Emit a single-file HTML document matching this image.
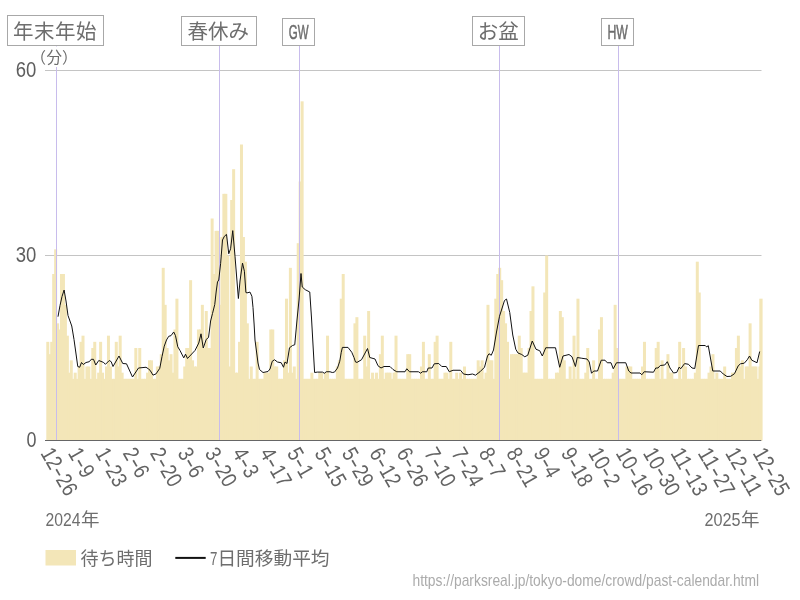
<!DOCTYPE html>
<html lang="ja"><head><meta charset="utf-8"><title>待ち時間</title>
<style>html,body{margin:0;padding:0;background:#fff}svg{display:block}text{font-family:"Liberation Sans","Noto Sans CJK JP",sans-serif;fill:#6e6e6e}svg{will-change:transform}.jp{font-family:"Liberation Sans","Noto Sans CJK JP",sans-serif}</style></head><body>
<svg width="800" height="600" viewBox="0 0 800 600">
<line x1="45" x2="761.5" y1="70.5" y2="70.5" stroke="#c4c4c4" stroke-width="1"/>
<line x1="45" x2="761.5" y1="255.5" y2="255.5" stroke="#c4c4c4" stroke-width="1"/>
<g fill="#f3e6b8">
<rect x="46.30" y="341.83" width="3.00" height="98.67"/>
<rect x="48.26" y="354.17" width="3.00" height="86.33"/>
<rect x="50.21" y="341.83" width="3.00" height="98.67"/>
<rect x="52.17" y="274.00" width="3.00" height="166.50"/>
<rect x="54.13" y="249.33" width="3.00" height="191.17"/>
<rect x="56.08" y="323.33" width="3.00" height="117.17"/>
<rect x="58.04" y="329.50" width="3.00" height="111.00"/>
<rect x="59.99" y="274.00" width="3.00" height="166.50"/>
<rect x="61.95" y="274.00" width="3.00" height="166.50"/>
<rect x="63.91" y="304.83" width="3.00" height="135.67"/>
<rect x="65.86" y="335.67" width="3.00" height="104.83"/>
<rect x="67.82" y="372.67" width="3.00" height="67.83"/>
<rect x="69.78" y="360.33" width="3.00" height="80.17"/>
<rect x="71.73" y="378.83" width="3.00" height="61.67"/>
<rect x="73.69" y="372.67" width="3.00" height="67.83"/>
<rect x="75.64" y="378.83" width="3.00" height="61.67"/>
<rect x="77.60" y="366.50" width="3.00" height="74.00"/>
<rect x="79.56" y="341.83" width="3.00" height="98.67"/>
<rect x="81.51" y="335.67" width="3.00" height="104.83"/>
<rect x="83.47" y="378.83" width="3.00" height="61.67"/>
<rect x="85.43" y="366.50" width="3.00" height="74.00"/>
<rect x="87.38" y="366.50" width="3.00" height="74.00"/>
<rect x="89.34" y="378.83" width="3.00" height="61.67"/>
<rect x="91.29" y="348.00" width="3.00" height="92.50"/>
<rect x="93.25" y="341.83" width="3.00" height="98.67"/>
<rect x="95.21" y="378.83" width="3.00" height="61.67"/>
<rect x="97.16" y="372.67" width="3.00" height="67.83"/>
<rect x="99.12" y="341.83" width="3.00" height="98.67"/>
<rect x="101.08" y="372.67" width="3.00" height="67.83"/>
<rect x="103.03" y="378.83" width="3.00" height="61.67"/>
<rect x="104.99" y="366.50" width="3.00" height="74.00"/>
<rect x="106.95" y="335.67" width="3.00" height="104.83"/>
<rect x="108.90" y="366.50" width="3.00" height="74.00"/>
<rect x="110.86" y="378.83" width="3.00" height="61.67"/>
<rect x="112.81" y="378.83" width="3.00" height="61.67"/>
<rect x="114.77" y="341.83" width="3.00" height="98.67"/>
<rect x="116.73" y="366.50" width="3.00" height="74.00"/>
<rect x="118.68" y="335.67" width="3.00" height="104.83"/>
<rect x="120.64" y="372.67" width="3.00" height="67.83"/>
<rect x="122.60" y="378.83" width="3.00" height="61.67"/>
<rect x="124.55" y="378.83" width="3.00" height="61.67"/>
<rect x="126.51" y="378.83" width="3.00" height="61.67"/>
<rect x="128.46" y="378.83" width="3.00" height="61.67"/>
<rect x="130.42" y="378.83" width="3.00" height="61.67"/>
<rect x="132.38" y="378.83" width="3.00" height="61.67"/>
<rect x="134.33" y="348.00" width="3.00" height="92.50"/>
<rect x="136.29" y="378.83" width="3.00" height="61.67"/>
<rect x="138.25" y="348.00" width="3.00" height="92.50"/>
<rect x="140.20" y="378.83" width="3.00" height="61.67"/>
<rect x="142.16" y="378.83" width="3.00" height="61.67"/>
<rect x="144.11" y="378.83" width="3.00" height="61.67"/>
<rect x="146.07" y="372.67" width="3.00" height="67.83"/>
<rect x="148.03" y="360.33" width="3.00" height="80.17"/>
<rect x="149.98" y="360.33" width="3.00" height="80.17"/>
<rect x="151.94" y="378.83" width="3.00" height="61.67"/>
<rect x="153.90" y="378.83" width="3.00" height="61.67"/>
<rect x="155.85" y="366.50" width="3.00" height="74.00"/>
<rect x="157.81" y="366.50" width="3.00" height="74.00"/>
<rect x="159.77" y="354.17" width="3.00" height="86.33"/>
<rect x="161.72" y="267.83" width="3.00" height="172.67"/>
<rect x="163.68" y="304.83" width="3.00" height="135.67"/>
<rect x="165.63" y="348.00" width="3.00" height="92.50"/>
<rect x="167.59" y="360.33" width="3.00" height="80.17"/>
<rect x="169.55" y="354.17" width="3.00" height="86.33"/>
<rect x="171.50" y="372.67" width="3.00" height="67.83"/>
<rect x="173.46" y="329.50" width="3.00" height="111.00"/>
<rect x="175.42" y="298.67" width="3.00" height="141.83"/>
<rect x="177.37" y="378.83" width="3.00" height="61.67"/>
<rect x="179.33" y="378.83" width="3.00" height="61.67"/>
<rect x="181.28" y="378.83" width="3.00" height="61.67"/>
<rect x="183.24" y="366.50" width="3.00" height="74.00"/>
<rect x="185.20" y="348.00" width="3.00" height="92.50"/>
<rect x="187.15" y="348.00" width="3.00" height="92.50"/>
<rect x="189.11" y="280.17" width="3.00" height="160.33"/>
<rect x="191.07" y="360.33" width="3.00" height="80.17"/>
<rect x="193.02" y="366.50" width="3.00" height="74.00"/>
<rect x="194.98" y="366.50" width="3.00" height="74.00"/>
<rect x="196.94" y="329.50" width="3.00" height="111.00"/>
<rect x="198.89" y="329.50" width="3.00" height="111.00"/>
<rect x="200.85" y="304.83" width="3.00" height="135.67"/>
<rect x="202.80" y="348.00" width="3.00" height="92.50"/>
<rect x="204.76" y="311.00" width="3.00" height="129.50"/>
<rect x="206.72" y="348.00" width="3.00" height="92.50"/>
<rect x="208.67" y="348.00" width="3.00" height="92.50"/>
<rect x="210.63" y="218.50" width="3.00" height="222.00"/>
<rect x="212.59" y="274.00" width="3.00" height="166.50"/>
<rect x="214.54" y="230.83" width="3.00" height="209.67"/>
<rect x="216.50" y="230.83" width="3.00" height="209.67"/>
<rect x="218.45" y="304.83" width="3.00" height="135.67"/>
<rect x="220.41" y="237.00" width="3.00" height="203.50"/>
<rect x="222.37" y="193.83" width="3.00" height="246.67"/>
<rect x="224.32" y="193.83" width="3.00" height="246.67"/>
<rect x="226.28" y="255.50" width="3.00" height="185.00"/>
<rect x="228.24" y="366.50" width="3.00" height="74.00"/>
<rect x="230.19" y="200.00" width="3.00" height="240.50"/>
<rect x="232.15" y="169.17" width="3.00" height="271.33"/>
<rect x="234.10" y="372.67" width="3.00" height="67.83"/>
<rect x="236.06" y="372.67" width="3.00" height="67.83"/>
<rect x="238.02" y="341.83" width="3.00" height="98.67"/>
<rect x="239.97" y="144.50" width="3.00" height="296.00"/>
<rect x="241.93" y="237.00" width="3.00" height="203.50"/>
<rect x="243.89" y="261.67" width="3.00" height="178.83"/>
<rect x="245.84" y="323.33" width="3.00" height="117.17"/>
<rect x="247.80" y="378.83" width="3.00" height="61.67"/>
<rect x="249.76" y="366.50" width="3.00" height="74.00"/>
<rect x="251.71" y="378.83" width="3.00" height="61.67"/>
<rect x="253.67" y="378.83" width="3.00" height="61.67"/>
<rect x="255.62" y="341.83" width="3.00" height="98.67"/>
<rect x="257.58" y="378.83" width="3.00" height="61.67"/>
<rect x="259.54" y="378.83" width="3.00" height="61.67"/>
<rect x="261.49" y="378.83" width="3.00" height="61.67"/>
<rect x="263.45" y="372.67" width="3.00" height="67.83"/>
<rect x="265.41" y="372.67" width="3.00" height="67.83"/>
<rect x="267.36" y="372.67" width="3.00" height="67.83"/>
<rect x="269.32" y="329.50" width="3.00" height="111.00"/>
<rect x="271.27" y="329.50" width="3.00" height="111.00"/>
<rect x="273.23" y="366.50" width="3.00" height="74.00"/>
<rect x="275.19" y="366.50" width="3.00" height="74.00"/>
<rect x="277.14" y="378.83" width="3.00" height="61.67"/>
<rect x="279.10" y="378.83" width="3.00" height="61.67"/>
<rect x="281.06" y="378.83" width="3.00" height="61.67"/>
<rect x="283.01" y="360.33" width="3.00" height="80.17"/>
<rect x="284.97" y="298.67" width="3.00" height="141.83"/>
<rect x="286.92" y="372.67" width="3.00" height="67.83"/>
<rect x="288.88" y="267.83" width="3.00" height="172.67"/>
<rect x="290.84" y="372.67" width="3.00" height="67.83"/>
<rect x="292.79" y="366.50" width="3.00" height="74.00"/>
<rect x="294.75" y="378.83" width="3.00" height="61.67"/>
<rect x="296.71" y="243.17" width="3.00" height="197.33"/>
<rect x="298.66" y="181.50" width="3.00" height="259.00"/>
<rect x="300.62" y="101.33" width="3.00" height="339.17"/>
<rect x="302.58" y="378.83" width="3.00" height="61.67"/>
<rect x="304.53" y="378.83" width="3.00" height="61.67"/>
<rect x="306.49" y="378.83" width="3.00" height="61.67"/>
<rect x="308.44" y="378.83" width="3.00" height="61.67"/>
<rect x="310.40" y="372.67" width="3.00" height="67.83"/>
<rect x="312.36" y="378.83" width="3.00" height="61.67"/>
<rect x="314.31" y="378.83" width="3.00" height="61.67"/>
<rect x="316.27" y="378.83" width="3.00" height="61.67"/>
<rect x="318.23" y="372.67" width="3.00" height="67.83"/>
<rect x="320.18" y="372.67" width="3.00" height="67.83"/>
<rect x="322.14" y="378.83" width="3.00" height="61.67"/>
<rect x="324.09" y="372.67" width="3.00" height="67.83"/>
<rect x="326.05" y="335.67" width="3.00" height="104.83"/>
<rect x="328.01" y="378.83" width="3.00" height="61.67"/>
<rect x="329.96" y="378.83" width="3.00" height="61.67"/>
<rect x="331.92" y="378.83" width="3.00" height="61.67"/>
<rect x="333.88" y="378.83" width="3.00" height="61.67"/>
<rect x="335.83" y="366.50" width="3.00" height="74.00"/>
<rect x="337.79" y="360.33" width="3.00" height="80.17"/>
<rect x="339.75" y="298.67" width="3.00" height="141.83"/>
<rect x="341.70" y="274.00" width="3.00" height="166.50"/>
<rect x="343.66" y="378.83" width="3.00" height="61.67"/>
<rect x="345.61" y="378.83" width="3.00" height="61.67"/>
<rect x="347.57" y="378.83" width="3.00" height="61.67"/>
<rect x="349.53" y="378.83" width="3.00" height="61.67"/>
<rect x="351.48" y="378.83" width="3.00" height="61.67"/>
<rect x="353.44" y="323.33" width="3.00" height="117.17"/>
<rect x="355.40" y="317.17" width="3.00" height="123.33"/>
<rect x="357.35" y="378.83" width="3.00" height="61.67"/>
<rect x="359.31" y="378.83" width="3.00" height="61.67"/>
<rect x="361.26" y="378.83" width="3.00" height="61.67"/>
<rect x="363.22" y="335.67" width="3.00" height="104.83"/>
<rect x="365.18" y="366.50" width="3.00" height="74.00"/>
<rect x="367.13" y="311.00" width="3.00" height="129.50"/>
<rect x="369.09" y="378.83" width="3.00" height="61.67"/>
<rect x="371.05" y="372.67" width="3.00" height="67.83"/>
<rect x="373.00" y="378.83" width="3.00" height="61.67"/>
<rect x="374.96" y="372.67" width="3.00" height="67.83"/>
<rect x="376.91" y="378.83" width="3.00" height="61.67"/>
<rect x="378.87" y="354.17" width="3.00" height="86.33"/>
<rect x="380.83" y="335.67" width="3.00" height="104.83"/>
<rect x="382.78" y="378.83" width="3.00" height="61.67"/>
<rect x="384.74" y="372.67" width="3.00" height="67.83"/>
<rect x="386.70" y="372.67" width="3.00" height="67.83"/>
<rect x="388.65" y="372.67" width="3.00" height="67.83"/>
<rect x="390.61" y="378.83" width="3.00" height="61.67"/>
<rect x="392.57" y="372.67" width="3.00" height="67.83"/>
<rect x="394.52" y="335.67" width="3.00" height="104.83"/>
<rect x="396.48" y="378.83" width="3.00" height="61.67"/>
<rect x="398.43" y="378.83" width="3.00" height="61.67"/>
<rect x="400.39" y="378.83" width="3.00" height="61.67"/>
<rect x="402.35" y="378.83" width="3.00" height="61.67"/>
<rect x="404.30" y="378.83" width="3.00" height="61.67"/>
<rect x="406.26" y="354.17" width="3.00" height="86.33"/>
<rect x="408.22" y="354.17" width="3.00" height="86.33"/>
<rect x="410.17" y="378.83" width="3.00" height="61.67"/>
<rect x="412.13" y="378.83" width="3.00" height="61.67"/>
<rect x="414.08" y="378.83" width="3.00" height="61.67"/>
<rect x="416.04" y="378.83" width="3.00" height="61.67"/>
<rect x="418.00" y="378.83" width="3.00" height="61.67"/>
<rect x="419.95" y="366.50" width="3.00" height="74.00"/>
<rect x="421.91" y="341.83" width="3.00" height="98.67"/>
<rect x="423.87" y="378.83" width="3.00" height="61.67"/>
<rect x="425.82" y="378.83" width="3.00" height="61.67"/>
<rect x="427.78" y="354.17" width="3.00" height="86.33"/>
<rect x="429.73" y="378.83" width="3.00" height="61.67"/>
<rect x="431.69" y="378.83" width="3.00" height="61.67"/>
<rect x="433.65" y="341.83" width="3.00" height="98.67"/>
<rect x="435.60" y="335.67" width="3.00" height="104.83"/>
<rect x="437.56" y="378.83" width="3.00" height="61.67"/>
<rect x="439.52" y="378.83" width="3.00" height="61.67"/>
<rect x="441.47" y="378.83" width="3.00" height="61.67"/>
<rect x="443.43" y="372.67" width="3.00" height="67.83"/>
<rect x="445.39" y="372.67" width="3.00" height="67.83"/>
<rect x="447.34" y="378.83" width="3.00" height="61.67"/>
<rect x="449.30" y="341.83" width="3.00" height="98.67"/>
<rect x="451.25" y="378.83" width="3.00" height="61.67"/>
<rect x="453.21" y="378.83" width="3.00" height="61.67"/>
<rect x="455.17" y="372.67" width="3.00" height="67.83"/>
<rect x="457.12" y="378.83" width="3.00" height="61.67"/>
<rect x="459.08" y="372.67" width="3.00" height="67.83"/>
<rect x="461.04" y="378.83" width="3.00" height="61.67"/>
<rect x="462.99" y="366.50" width="3.00" height="74.00"/>
<rect x="464.95" y="378.83" width="3.00" height="61.67"/>
<rect x="466.90" y="378.83" width="3.00" height="61.67"/>
<rect x="468.86" y="378.83" width="3.00" height="61.67"/>
<rect x="470.82" y="378.83" width="3.00" height="61.67"/>
<rect x="472.77" y="378.83" width="3.00" height="61.67"/>
<rect x="474.73" y="378.83" width="3.00" height="61.67"/>
<rect x="476.69" y="360.33" width="3.00" height="80.17"/>
<rect x="478.64" y="366.50" width="3.00" height="74.00"/>
<rect x="480.60" y="360.33" width="3.00" height="80.17"/>
<rect x="482.55" y="378.83" width="3.00" height="61.67"/>
<rect x="484.51" y="372.67" width="3.00" height="67.83"/>
<rect x="486.47" y="304.83" width="3.00" height="135.67"/>
<rect x="488.42" y="360.33" width="3.00" height="80.17"/>
<rect x="490.38" y="360.33" width="3.00" height="80.17"/>
<rect x="492.34" y="378.83" width="3.00" height="61.67"/>
<rect x="494.29" y="298.67" width="3.00" height="141.83"/>
<rect x="496.25" y="274.00" width="3.00" height="166.50"/>
<rect x="498.21" y="267.83" width="3.00" height="172.67"/>
<rect x="500.16" y="280.17" width="3.00" height="160.33"/>
<rect x="502.12" y="311.00" width="3.00" height="129.50"/>
<rect x="504.07" y="323.33" width="3.00" height="117.17"/>
<rect x="506.03" y="341.83" width="3.00" height="98.67"/>
<rect x="507.99" y="378.83" width="3.00" height="61.67"/>
<rect x="509.94" y="354.17" width="3.00" height="86.33"/>
<rect x="511.90" y="354.17" width="3.00" height="86.33"/>
<rect x="513.86" y="354.17" width="3.00" height="86.33"/>
<rect x="515.81" y="354.17" width="3.00" height="86.33"/>
<rect x="517.77" y="335.67" width="3.00" height="104.83"/>
<rect x="519.72" y="348.00" width="3.00" height="92.50"/>
<rect x="521.68" y="372.67" width="3.00" height="67.83"/>
<rect x="523.64" y="372.67" width="3.00" height="67.83"/>
<rect x="525.59" y="372.67" width="3.00" height="67.83"/>
<rect x="527.55" y="348.00" width="3.00" height="92.50"/>
<rect x="529.51" y="311.00" width="3.00" height="129.50"/>
<rect x="531.46" y="286.33" width="3.00" height="154.17"/>
<rect x="533.42" y="378.83" width="3.00" height="61.67"/>
<rect x="535.38" y="378.83" width="3.00" height="61.67"/>
<rect x="537.33" y="378.83" width="3.00" height="61.67"/>
<rect x="539.29" y="378.83" width="3.00" height="61.67"/>
<rect x="541.24" y="378.83" width="3.00" height="61.67"/>
<rect x="543.20" y="292.50" width="3.00" height="148.00"/>
<rect x="545.16" y="255.50" width="3.00" height="185.00"/>
<rect x="547.11" y="378.83" width="3.00" height="61.67"/>
<rect x="549.07" y="378.83" width="3.00" height="61.67"/>
<rect x="551.03" y="378.83" width="3.00" height="61.67"/>
<rect x="552.98" y="378.83" width="3.00" height="61.67"/>
<rect x="554.94" y="372.67" width="3.00" height="67.83"/>
<rect x="556.89" y="372.67" width="3.00" height="67.83"/>
<rect x="558.85" y="311.00" width="3.00" height="129.50"/>
<rect x="560.81" y="317.17" width="3.00" height="123.33"/>
<rect x="562.76" y="360.33" width="3.00" height="80.17"/>
<rect x="564.72" y="378.83" width="3.00" height="61.67"/>
<rect x="566.68" y="378.83" width="3.00" height="61.67"/>
<rect x="568.63" y="366.50" width="3.00" height="74.00"/>
<rect x="570.59" y="378.83" width="3.00" height="61.67"/>
<rect x="572.54" y="335.67" width="3.00" height="104.83"/>
<rect x="574.50" y="378.83" width="3.00" height="61.67"/>
<rect x="576.46" y="298.67" width="3.00" height="141.83"/>
<rect x="578.41" y="378.83" width="3.00" height="61.67"/>
<rect x="580.37" y="378.83" width="3.00" height="61.67"/>
<rect x="582.33" y="378.83" width="3.00" height="61.67"/>
<rect x="584.28" y="372.67" width="3.00" height="67.83"/>
<rect x="586.24" y="348.00" width="3.00" height="92.50"/>
<rect x="588.20" y="378.83" width="3.00" height="61.67"/>
<rect x="590.15" y="378.83" width="3.00" height="61.67"/>
<rect x="592.11" y="360.33" width="3.00" height="80.17"/>
<rect x="594.06" y="378.83" width="3.00" height="61.67"/>
<rect x="596.02" y="378.83" width="3.00" height="61.67"/>
<rect x="597.98" y="329.50" width="3.00" height="111.00"/>
<rect x="599.93" y="317.17" width="3.00" height="123.33"/>
<rect x="601.89" y="378.83" width="3.00" height="61.67"/>
<rect x="603.85" y="378.83" width="3.00" height="61.67"/>
<rect x="605.80" y="378.83" width="3.00" height="61.67"/>
<rect x="607.76" y="378.83" width="3.00" height="61.67"/>
<rect x="609.71" y="378.83" width="3.00" height="61.67"/>
<rect x="611.67" y="372.67" width="3.00" height="67.83"/>
<rect x="613.63" y="304.83" width="3.00" height="135.67"/>
<rect x="615.58" y="348.00" width="3.00" height="92.50"/>
<rect x="617.54" y="378.83" width="3.00" height="61.67"/>
<rect x="619.50" y="378.83" width="3.00" height="61.67"/>
<rect x="621.45" y="378.83" width="3.00" height="61.67"/>
<rect x="623.41" y="378.83" width="3.00" height="61.67"/>
<rect x="625.36" y="366.50" width="3.00" height="74.00"/>
<rect x="627.32" y="366.50" width="3.00" height="74.00"/>
<rect x="629.28" y="366.50" width="3.00" height="74.00"/>
<rect x="631.23" y="378.83" width="3.00" height="61.67"/>
<rect x="633.19" y="378.83" width="3.00" height="61.67"/>
<rect x="635.15" y="378.83" width="3.00" height="61.67"/>
<rect x="637.10" y="378.83" width="3.00" height="61.67"/>
<rect x="639.06" y="378.83" width="3.00" height="61.67"/>
<rect x="641.02" y="366.50" width="3.00" height="74.00"/>
<rect x="642.97" y="341.83" width="3.00" height="98.67"/>
<rect x="644.93" y="378.83" width="3.00" height="61.67"/>
<rect x="646.88" y="378.83" width="3.00" height="61.67"/>
<rect x="648.84" y="378.83" width="3.00" height="61.67"/>
<rect x="650.80" y="378.83" width="3.00" height="61.67"/>
<rect x="652.75" y="378.83" width="3.00" height="61.67"/>
<rect x="654.71" y="348.00" width="3.00" height="92.50"/>
<rect x="656.67" y="341.83" width="3.00" height="98.67"/>
<rect x="658.62" y="378.83" width="3.00" height="61.67"/>
<rect x="660.58" y="360.33" width="3.00" height="80.17"/>
<rect x="662.53" y="378.83" width="3.00" height="61.67"/>
<rect x="664.49" y="378.83" width="3.00" height="61.67"/>
<rect x="666.45" y="354.17" width="3.00" height="86.33"/>
<rect x="668.40" y="372.67" width="3.00" height="67.83"/>
<rect x="670.36" y="372.67" width="3.00" height="67.83"/>
<rect x="672.32" y="378.83" width="3.00" height="61.67"/>
<rect x="674.27" y="378.83" width="3.00" height="61.67"/>
<rect x="676.23" y="378.83" width="3.00" height="61.67"/>
<rect x="678.18" y="341.83" width="3.00" height="98.67"/>
<rect x="680.14" y="378.83" width="3.00" height="61.67"/>
<rect x="682.10" y="348.00" width="3.00" height="92.50"/>
<rect x="684.05" y="366.50" width="3.00" height="74.00"/>
<rect x="686.01" y="378.83" width="3.00" height="61.67"/>
<rect x="687.97" y="378.83" width="3.00" height="61.67"/>
<rect x="689.92" y="378.83" width="3.00" height="61.67"/>
<rect x="691.88" y="378.83" width="3.00" height="61.67"/>
<rect x="693.84" y="372.67" width="3.00" height="67.83"/>
<rect x="695.79" y="261.67" width="3.00" height="178.83"/>
<rect x="697.75" y="292.50" width="3.00" height="148.00"/>
<rect x="699.70" y="378.83" width="3.00" height="61.67"/>
<rect x="701.66" y="378.83" width="3.00" height="61.67"/>
<rect x="703.62" y="378.83" width="3.00" height="61.67"/>
<rect x="705.57" y="378.83" width="3.00" height="61.67"/>
<rect x="707.53" y="372.67" width="3.00" height="67.83"/>
<rect x="709.49" y="366.50" width="3.00" height="74.00"/>
<rect x="711.44" y="354.17" width="3.00" height="86.33"/>
<rect x="713.40" y="378.83" width="3.00" height="61.67"/>
<rect x="715.35" y="372.67" width="3.00" height="67.83"/>
<rect x="717.31" y="378.83" width="3.00" height="61.67"/>
<rect x="719.27" y="378.83" width="3.00" height="61.67"/>
<rect x="721.22" y="378.83" width="3.00" height="61.67"/>
<rect x="723.18" y="366.50" width="3.00" height="74.00"/>
<rect x="725.14" y="378.83" width="3.00" height="61.67"/>
<rect x="727.09" y="378.83" width="3.00" height="61.67"/>
<rect x="729.05" y="378.83" width="3.00" height="61.67"/>
<rect x="731.00" y="372.67" width="3.00" height="67.83"/>
<rect x="732.96" y="372.67" width="3.00" height="67.83"/>
<rect x="734.92" y="348.00" width="3.00" height="92.50"/>
<rect x="736.87" y="335.67" width="3.00" height="104.83"/>
<rect x="738.83" y="366.50" width="3.00" height="74.00"/>
<rect x="740.79" y="360.33" width="3.00" height="80.17"/>
<rect x="742.74" y="378.83" width="3.00" height="61.67"/>
<rect x="744.70" y="366.50" width="3.00" height="74.00"/>
<rect x="746.66" y="366.50" width="3.00" height="74.00"/>
<rect x="748.61" y="323.33" width="3.00" height="117.17"/>
<rect x="750.57" y="366.50" width="3.00" height="74.00"/>
<rect x="752.52" y="366.50" width="3.00" height="74.00"/>
<rect x="754.48" y="366.50" width="3.00" height="74.00"/>
<rect x="756.44" y="378.83" width="3.00" height="61.67"/>
<rect x="758.39" y="366.50" width="3.00" height="74.00"/>
<rect x="759.30" y="298.67" width="3.30" height="141.83"/>
</g>
<line x1="56.5" x2="56.5" y1="45.5" y2="440" stroke="#c8bcec" stroke-width="1"/>
<line x1="219.5" x2="219.5" y1="45.5" y2="440" stroke="#c8bcec" stroke-width="1"/>
<line x1="299.5" x2="299.5" y1="45.5" y2="440" stroke="#c8bcec" stroke-width="1"/>
<line x1="499.5" x2="499.5" y1="45.5" y2="440" stroke="#c8bcec" stroke-width="1"/>
<line x1="618.5" x2="618.5" y1="45.5" y2="440" stroke="#c8bcec" stroke-width="1"/>
<line x1="45" x2="761.3" y1="440.5" y2="440.5" stroke="#666" stroke-width="1"/>
<polyline fill="none" stroke="#111" stroke-width="1" stroke-linejoin="round" points="58.00,316.70 60.00,305.50 62.00,296.50 64.10,290.00 66.00,301.00 68.00,315.50 71.75,326.00 74.00,339.50 75.90,353.00 77.75,366.50 79.70,367.25 81.50,362.50 83.30,364.50 86.00,362.50 89.30,361.70 91.25,359.30 93.50,359.30 95.75,365.00 98.75,360.50 103.25,362.30 105.50,364.25 109.25,360.50 111.20,361.70 113.00,366.50 119.00,356.00 122.75,363.50 126.50,363.80 132.50,377.00 138.50,368.00 146.00,367.25 148.25,368.75 150.00,370.20 153.00,375.13 156.00,373.90 159.75,368.35 162.00,356.63 164.25,346.15 166.50,339.98 168.75,336.28 171.00,335.67 173.70,331.97 175.50,335.67 177.75,346.77 180.00,350.47 183.75,357.87 185.50,354.17 187.50,358.48 195.00,350.47 198.75,343.07 201.00,333.82 203.25,348.00 206.25,339.37 208.50,337.52 209.50,330.00 210.60,321.00 212.50,313.50 214.75,304.50 216.25,291.00 217.50,281.90 218.75,280.00 220.60,263.75 222.50,240.00 224.40,236.25 226.50,234.40 228.75,253.75 230.60,248.75 232.75,230.60 235.00,256.25 236.90,280.00 238.40,298.50 240.00,281.00 242.50,263.10 244.40,271.25 245.90,292.50 247.00,292.90 250.00,292.10 251.90,296.25 253.00,307.50 254.10,324.00 255.00,340.00 258.00,363.00 259.50,369.50 263.00,372.50 268.00,371.50 270.00,369.00 272.25,361.25 274.50,359.75 277.50,362.00 281.25,362.75 283.50,367.25 285.00,362.00 287.00,363.50 289.50,347.75 292.50,345.50 294.75,344.75 297.00,320.00 299.00,300.00 301.00,273.50 302.25,287.00 305.25,289.70 309.75,292.00 311.50,318.00 313.20,348.00 314.60,372.50 317.25,372.10 322.50,372.10 324.40,373.25 326.25,371.75 330.00,371.75 332.25,372.50 334.50,372.10 337.50,368.00 339.75,361.25 341.25,352.25 342.40,347.40 348.00,347.40 351.75,352.25 354.00,357.50 355.50,362.00 357.00,362.40 361.50,359.75 367.50,348.50 369.75,357.50 375.00,359.00 378.00,365.75 381.00,368.00 384.00,366.50 390.00,366.50 393.00,369.50 396.75,371.75 405.00,371.75 406.80,368.75 409.50,371.75 418.50,371.75 420.75,373.25 422.25,371.75 426.75,371.75 428.25,368.00 432.00,368.00 434.25,363.80 438.75,363.50 441.75,366.50 446.25,366.50 449.25,371.75 453.00,370.25 460.50,370.25 463.50,374.00 468.00,374.75 472.50,374.00 475.50,375.20 480.00,371.75 484.50,367.25 487.50,356.00 489.00,353.75 491.25,355.25 493.50,350.00 496.50,332.00 499.50,316.25 504.50,300.50 506.50,299.00 509.75,312.50 512.75,335.00 515.75,349.25 518.00,353.00 521.75,354.50 524.75,356.75 527.75,355.25 532.25,341.00 536.00,349.25 539.75,350.75 542.30,356.00 545.75,347.75 555.50,347.75 559.70,367.25 563.00,356.00 569.00,354.50 572.00,356.75 575.45,366.50 577.25,357.50 581.75,358.25 587.00,359.00 589.25,362.00 591.50,373.25 593.75,371.00 597.50,371.00 601.25,360.20 605.00,360.20 607.25,362.75 611.00,362.75 613.25,368.75 616.50,362.75 625.75,362.75 628.75,371.00 631.00,373.00 640.00,373.00 641.80,374.75 644.20,371.75 653.50,372.20 655.75,368.00 658.00,368.00 660.25,365.50 664.75,365.00 667.30,361.70 670.00,368.00 673.50,373.00 676.75,372.40 679.20,367.10 680.70,368.75 684.60,363.60 688.40,364.25 692.00,368.00 694.75,368.50 698.50,345.50 705.25,345.50 706.75,347.00 708.25,345.60 712.75,371.00 720.25,371.00 723.25,374.00 727.00,376.50 730.75,376.25 734.50,373.70 738.25,365.75 740.50,363.80 744.25,363.20 747.25,359.75 749.50,356.00 751.75,360.20 757.00,362.75 759.70,351.50"/>
<rect x="38" y="46.5" width="32" height="20.5" fill="#fff"/>
<text class="jp" x="30.6 46.4 62.1" y="62.7" font-size="15.5">（分）</text>
<text style="fill:#5e5e5e" x="36.4" y="77.4" font-size="22" text-anchor="end" textLength="20.6" lengthAdjust="spacingAndGlyphs">60</text>
<text style="fill:#5e5e5e" x="36.4" y="262.4" font-size="22" text-anchor="end" textLength="20.6" lengthAdjust="spacingAndGlyphs">30</text>
<text style="fill:#5e5e5e" x="36.4" y="447.4" font-size="22" text-anchor="end" textLength="10.0" lengthAdjust="spacingAndGlyphs">0</text>
<rect x="7.5" y="15.5" width="96" height="30" fill="#fff" stroke="#a8a8a8" stroke-width="1"/>
<text class="jp" x="13.0" y="39.3" font-size="20.5" letter-spacing="0.5">年末年始</text>
<rect x="181.5" y="16.5" width="75" height="29" fill="#fff" stroke="#a8a8a8" stroke-width="1"/>
<text class="jp" x="187.6" y="39.3" font-size="20.5">春休み</text>
<rect x="282.5" y="18.5" width="32" height="27" fill="#fff" stroke="#a8a8a8" stroke-width="1"/>
<text x="288.7" y="39.2" font-size="20.5" stroke="#6e6e6e" stroke-width="0.55" textLength="19.8" lengthAdjust="spacingAndGlyphs">GW</text>
<rect x="472.5" y="16.5" width="52" height="29" fill="#fff" stroke="#a8a8a8" stroke-width="1"/>
<text class="jp" x="477.8" y="39.3" font-size="20.5">お盆</text>
<rect x="601.5" y="18.5" width="32" height="27" fill="#fff" stroke="#a8a8a8" stroke-width="1"/>
<text x="607.4000000000001" y="39.2" font-size="20.5" stroke="#6e6e6e" stroke-width="0.55" textLength="20.400000000000002" lengthAdjust="spacingAndGlyphs">HW</text>
<text style="fill:#636363" transform="translate(40.03,452.9) rotate(60)" font-size="22"><tspan textLength="20.8" lengthAdjust="spacingAndGlyphs">12</tspan><tspan textLength="9.8" lengthAdjust="spacingAndGlyphs">-</tspan><tspan textLength="20.8" lengthAdjust="spacingAndGlyphs">26</tspan></text>
<text style="fill:#636363" transform="translate(67.42,452.9) rotate(60)" font-size="22"><tspan textLength="10.4" lengthAdjust="spacingAndGlyphs">1</tspan><tspan textLength="9.8" lengthAdjust="spacingAndGlyphs">-</tspan><tspan textLength="10.4" lengthAdjust="spacingAndGlyphs">9</tspan></text>
<text style="fill:#636363" transform="translate(94.81,452.9) rotate(60)" font-size="22"><tspan textLength="10.4" lengthAdjust="spacingAndGlyphs">1</tspan><tspan textLength="9.8" lengthAdjust="spacingAndGlyphs">-</tspan><tspan textLength="20.8" lengthAdjust="spacingAndGlyphs">23</tspan></text>
<text style="fill:#636363" transform="translate(122.20,452.9) rotate(60)" font-size="22"><tspan textLength="10.4" lengthAdjust="spacingAndGlyphs">2</tspan><tspan textLength="9.8" lengthAdjust="spacingAndGlyphs">-</tspan><tspan textLength="10.4" lengthAdjust="spacingAndGlyphs">6</tspan></text>
<text style="fill:#636363" transform="translate(149.59,452.9) rotate(60)" font-size="22"><tspan textLength="10.4" lengthAdjust="spacingAndGlyphs">2</tspan><tspan textLength="9.8" lengthAdjust="spacingAndGlyphs">-</tspan><tspan textLength="20.8" lengthAdjust="spacingAndGlyphs">20</tspan></text>
<text style="fill:#636363" transform="translate(176.98,452.9) rotate(60)" font-size="22"><tspan textLength="10.4" lengthAdjust="spacingAndGlyphs">3</tspan><tspan textLength="9.8" lengthAdjust="spacingAndGlyphs">-</tspan><tspan textLength="10.4" lengthAdjust="spacingAndGlyphs">6</tspan></text>
<text style="fill:#636363" transform="translate(204.36,452.9) rotate(60)" font-size="22"><tspan textLength="10.4" lengthAdjust="spacingAndGlyphs">3</tspan><tspan textLength="9.8" lengthAdjust="spacingAndGlyphs">-</tspan><tspan textLength="20.8" lengthAdjust="spacingAndGlyphs">20</tspan></text>
<text style="fill:#636363" transform="translate(231.75,452.9) rotate(60)" font-size="22"><tspan textLength="10.4" lengthAdjust="spacingAndGlyphs">4</tspan><tspan textLength="9.8" lengthAdjust="spacingAndGlyphs">-</tspan><tspan textLength="10.4" lengthAdjust="spacingAndGlyphs">3</tspan></text>
<text style="fill:#636363" transform="translate(259.14,452.9) rotate(60)" font-size="22"><tspan textLength="10.4" lengthAdjust="spacingAndGlyphs">4</tspan><tspan textLength="9.8" lengthAdjust="spacingAndGlyphs">-</tspan><tspan textLength="20.8" lengthAdjust="spacingAndGlyphs">17</tspan></text>
<text style="fill:#636363" transform="translate(286.53,452.9) rotate(60)" font-size="22"><tspan textLength="10.4" lengthAdjust="spacingAndGlyphs">5</tspan><tspan textLength="9.8" lengthAdjust="spacingAndGlyphs">-</tspan><tspan textLength="10.4" lengthAdjust="spacingAndGlyphs">1</tspan></text>
<text style="fill:#636363" transform="translate(313.92,452.9) rotate(60)" font-size="22"><tspan textLength="10.4" lengthAdjust="spacingAndGlyphs">5</tspan><tspan textLength="9.8" lengthAdjust="spacingAndGlyphs">-</tspan><tspan textLength="20.8" lengthAdjust="spacingAndGlyphs">15</tspan></text>
<text style="fill:#636363" transform="translate(341.30,452.9) rotate(60)" font-size="22"><tspan textLength="10.4" lengthAdjust="spacingAndGlyphs">5</tspan><tspan textLength="9.8" lengthAdjust="spacingAndGlyphs">-</tspan><tspan textLength="20.8" lengthAdjust="spacingAndGlyphs">29</tspan></text>
<text style="fill:#636363" transform="translate(368.69,452.9) rotate(60)" font-size="22"><tspan textLength="10.4" lengthAdjust="spacingAndGlyphs">6</tspan><tspan textLength="9.8" lengthAdjust="spacingAndGlyphs">-</tspan><tspan textLength="20.8" lengthAdjust="spacingAndGlyphs">12</tspan></text>
<text style="fill:#636363" transform="translate(396.08,452.9) rotate(60)" font-size="22"><tspan textLength="10.4" lengthAdjust="spacingAndGlyphs">6</tspan><tspan textLength="9.8" lengthAdjust="spacingAndGlyphs">-</tspan><tspan textLength="20.8" lengthAdjust="spacingAndGlyphs">26</tspan></text>
<text style="fill:#636363" transform="translate(423.47,452.9) rotate(60)" font-size="22"><tspan textLength="10.4" lengthAdjust="spacingAndGlyphs">7</tspan><tspan textLength="9.8" lengthAdjust="spacingAndGlyphs">-</tspan><tspan textLength="20.8" lengthAdjust="spacingAndGlyphs">10</tspan></text>
<text style="fill:#636363" transform="translate(450.86,452.9) rotate(60)" font-size="22"><tspan textLength="10.4" lengthAdjust="spacingAndGlyphs">7</tspan><tspan textLength="9.8" lengthAdjust="spacingAndGlyphs">-</tspan><tspan textLength="20.8" lengthAdjust="spacingAndGlyphs">24</tspan></text>
<text style="fill:#636363" transform="translate(478.25,452.9) rotate(60)" font-size="22"><tspan textLength="10.4" lengthAdjust="spacingAndGlyphs">8</tspan><tspan textLength="9.8" lengthAdjust="spacingAndGlyphs">-</tspan><tspan textLength="10.4" lengthAdjust="spacingAndGlyphs">7</tspan></text>
<text style="fill:#636363" transform="translate(505.63,452.9) rotate(60)" font-size="22"><tspan textLength="10.4" lengthAdjust="spacingAndGlyphs">8</tspan><tspan textLength="9.8" lengthAdjust="spacingAndGlyphs">-</tspan><tspan textLength="20.8" lengthAdjust="spacingAndGlyphs">21</tspan></text>
<text style="fill:#636363" transform="translate(533.02,452.9) rotate(60)" font-size="22"><tspan textLength="10.4" lengthAdjust="spacingAndGlyphs">9</tspan><tspan textLength="9.8" lengthAdjust="spacingAndGlyphs">-</tspan><tspan textLength="10.4" lengthAdjust="spacingAndGlyphs">4</tspan></text>
<text style="fill:#636363" transform="translate(560.41,452.9) rotate(60)" font-size="22"><tspan textLength="10.4" lengthAdjust="spacingAndGlyphs">9</tspan><tspan textLength="9.8" lengthAdjust="spacingAndGlyphs">-</tspan><tspan textLength="20.8" lengthAdjust="spacingAndGlyphs">18</tspan></text>
<text style="fill:#636363" transform="translate(587.80,452.9) rotate(60)" font-size="22"><tspan textLength="20.8" lengthAdjust="spacingAndGlyphs">10</tspan><tspan textLength="9.8" lengthAdjust="spacingAndGlyphs">-</tspan><tspan textLength="10.4" lengthAdjust="spacingAndGlyphs">2</tspan></text>
<text style="fill:#636363" transform="translate(615.19,452.9) rotate(60)" font-size="22"><tspan textLength="20.8" lengthAdjust="spacingAndGlyphs">10</tspan><tspan textLength="9.8" lengthAdjust="spacingAndGlyphs">-</tspan><tspan textLength="20.8" lengthAdjust="spacingAndGlyphs">16</tspan></text>
<text style="fill:#636363" transform="translate(642.57,452.9) rotate(60)" font-size="22"><tspan textLength="20.8" lengthAdjust="spacingAndGlyphs">10</tspan><tspan textLength="9.8" lengthAdjust="spacingAndGlyphs">-</tspan><tspan textLength="20.8" lengthAdjust="spacingAndGlyphs">30</tspan></text>
<text style="fill:#636363" transform="translate(669.96,452.9) rotate(60)" font-size="22"><tspan textLength="20.8" lengthAdjust="spacingAndGlyphs">11</tspan><tspan textLength="9.8" lengthAdjust="spacingAndGlyphs">-</tspan><tspan textLength="20.8" lengthAdjust="spacingAndGlyphs">13</tspan></text>
<text style="fill:#636363" transform="translate(697.35,452.9) rotate(60)" font-size="22"><tspan textLength="20.8" lengthAdjust="spacingAndGlyphs">11</tspan><tspan textLength="9.8" lengthAdjust="spacingAndGlyphs">-</tspan><tspan textLength="20.8" lengthAdjust="spacingAndGlyphs">27</tspan></text>
<text style="fill:#636363" transform="translate(724.74,452.9) rotate(60)" font-size="22"><tspan textLength="20.8" lengthAdjust="spacingAndGlyphs">12</tspan><tspan textLength="9.8" lengthAdjust="spacingAndGlyphs">-</tspan><tspan textLength="20.8" lengthAdjust="spacingAndGlyphs">11</tspan></text>
<text style="fill:#636363" transform="translate(752.13,452.9) rotate(60)" font-size="22"><tspan textLength="20.8" lengthAdjust="spacingAndGlyphs">12</tspan><tspan textLength="9.8" lengthAdjust="spacingAndGlyphs">-</tspan><tspan textLength="20.8" lengthAdjust="spacingAndGlyphs">25</tspan></text>
<text x="45.6" y="526" font-size="18"><tspan textLength="35" lengthAdjust="spacingAndGlyphs">2024</tspan><tspan class="jp" font-size="18.5" dx="0.5">年</tspan></text>
<text x="704.6" y="526" font-size="18"><tspan textLength="36" lengthAdjust="spacingAndGlyphs">2025</tspan><tspan class="jp" font-size="18.5" dx="0.5">年</tspan></text>
<rect x="45.5" y="550" width="30.5" height="15.5" fill="#f3e6b8"/>
<text class="jp" x="80.5" y="564.6" font-size="18">待ち時間</text>
<line x1="175.3" x2="205.7" y1="557.9" y2="557.9" stroke="#111" stroke-width="2"/>
<text x="210.0" y="564.6" font-size="18"><tspan textLength="7.4" lengthAdjust="spacingAndGlyphs">7</tspan><tspan class="jp" font-size="18.7" dx="0">日間移動平均</tspan></text>
<text x="412.5" y="586.2" font-size="17" style="fill:#ababab" textLength="346.5" lengthAdjust="spacingAndGlyphs">https://parksreal.jp/tokyo-dome/crowd/past-calendar.html</text>
</svg></body></html>
